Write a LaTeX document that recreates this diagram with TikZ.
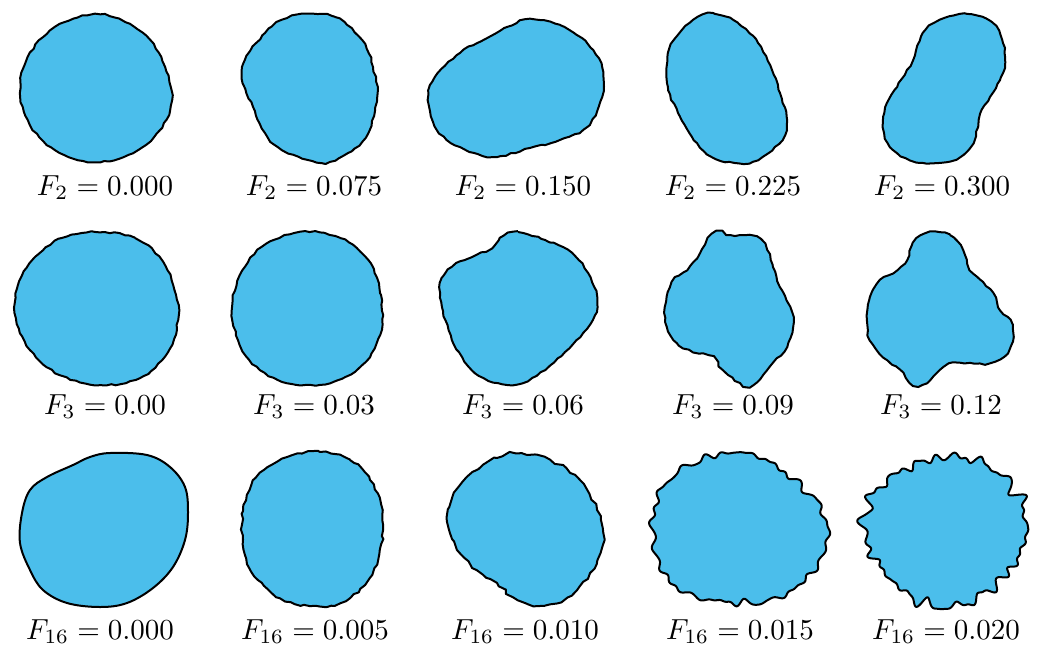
\documentclass[tikz,border=0pt]{standalone}
\usetikzlibrary{decorations.pathmorphing}
\definecolor{blobblue}{RGB}{75,190,235}
\tikzset{
  blob/.style={fill=blobblue, draw=black, line width=2pt, line join=round},
  wfine/.style={decorate, decoration={random steps, segment length=5pt, amplitude=0.8pt}},
  wlow/.style={decorate, decoration={random steps, segment length=5pt, amplitude=1.2pt}},
  wmid/.style={decorate, decoration={random steps, segment length=6pt, amplitude=2pt}},
  lab/.style={anchor=base, inner sep=0pt, scale=2.9},
  declare function={
    ell(\t,\a,\b,\r)=\a*\b/sqrt((\b*cos(\t-\r))^2+(\a*sin(\t-\r))^2);
    rfour(\t)=ell(\t,88,75,8)*(1+0.03*sin(3*\t+40)+0.02*sin(5*\t+120)+0.014*sin(16*\t+20)+0.014*sin(19*\t+110)+0.013*sin(23*\t+200)+0.011*sin(28*\t+60)+0.01*sin(34*\t+300)+0.007*sin(41*\t+10));
    rfive(\t)=ell(\t,80,74,-5)*(1+0.03*sin(3*\t+200)+0.02*sin(4*\t+60)+0.028*sin(16*\t+30)+0.025*sin(19*\t+150)+0.022*sin(24*\t+260)+0.018*sin(29*\t+80)+0.015*sin(35*\t+200)+0.012*sin(43*\t+20));
  }
}
\newcommand\myblob[2]{\filldraw[blob,#1] plot[smooth cycle, tension=0.6] coordinates {#2};}
\begin{document}
\begin{tikzpicture}[x=1pt,y=-1pt]
\pgfmathsetseed{4242}
\useasboundingbox (0,0) rectangle (1038,648);
% row 1
\myblob{wfine}{(95,14)(125,22)(150,40)(165,67)(172,100)(160,130)(133,153)(93,162)(55,150)(30,125)(20,93)(28,57)(55,27)}
\myblob{wfine}{(302,14)(335,17)(362,40)(373,67)(377,97)(368,133)(348,153)(322,163)(282,150)(265,133)(253,107)(243,83)(245,60)(265,33)(282,20)}
\myblob{wfine}{(530,19)(560,25)(587,43)(602,67)(602,97)(587,127)(560,140)(530,148)(493,157)(460,147)(437,130)(428,100)(435,77)(460,53)(487,38)(507,27)}
\myblob{wfine}{(715,14)(738,23)(758,43)(772,70)(780,93)(787,120)(782,140)(758,160)(735,163)(712,157)(692,137)(678,113)(668,87)(668,53)(682,30)(698,17)}
\myblob{wfine}{(967,14)(993,23)(1003,43)(1005,63)(1000,80)(990,97)(982,110)(978,127)(973,143)(960,157)(937,163)(910,160)(890,147)(883,127)(887,103)(897,87)(913,60)(923,33)(940,20)}
% row 2
\myblob{wfine}{(95,232)(135,238)(163,262)(176,295)(178,320)(168,352)(140,378)(100,385)(60,375)(30,350)(16,318)(18,285)(35,257)(62,238)}
\myblob{wfine}{(300,232)(340,238)(368,260)(381,295)(380,335)(362,365)(330,383)(292,384)(260,370)(240,345)(232,310)(240,275)(262,247)}
\myblob{wfine}{(508,233)(518,232)(545,240)(572,253)(588,273)(597,297)(595,315)(583,333)(565,352)(545,370)(522,383)(498,383)(475,373)(462,357)(452,340)(442,307)(440,283)(452,267)(472,257)(492,248)(500,238)}
\myblob{wfine}{(717,232)(730,235)(757,237)(767,250)(773,267)(780,287)(790,307)(793,323)(787,347)(773,363)(753,385)(740,383)(723,370)(713,357)(693,352)(677,343)(667,327)(665,307)(672,282)(687,270)(700,253)(708,238)}
\myblob{wfine}{(930,232)(950,235)(963,250)(970,270)(983,282)(993,293)(1000,310)(1010,320)(1013,337)(1007,353)(990,363)(970,363)(953,363)(940,370)(927,383)(913,385)(900,370)(883,357)(870,340)(867,320)(870,297)(880,280)(893,273)(907,260)(913,243)}
% row 3
\myblob{}{(110,453)(147,455)(170,467)(185,487)(188,513)(185,540)(173,567)(153,588)(127,603)(100,607)(67,603)(43,590)(30,570)(20,543)(22,513)(30,490)(47,477)(73,465)(90,457)}
\myblob{wlow}{(320,452)(350,460)(370,480)(381,505)(383,530)(378,560)(365,585)(340,603)(310,606)(280,598)(258,580)(245,555)(242,525)(247,495)(260,473)(288,457)}
\myblob{wmid}{(510,453)(527,455)(550,460)(570,473)(587,490)(597,510)(603,533)(600,553)(590,573)(577,590)(557,603)(530,605)(513,597)(497,583)(477,570)(460,553)(450,533)(447,517)(453,497)(467,477)(483,465)(497,458)}
\filldraw[blob] plot[domain=0:359.5, samples=720, variable=\t] ({737+rfour(\t)*cos(\t)}, {530+rfour(\t)*sin(\t)}) -- cycle;
\filldraw[blob] plot[domain=0:359.5, samples=720, variable=\t] ({946+rfive(\t)*cos(\t)}, {530+rfive(\t)*sin(\t)}) -- cycle;
% labels
\node[lab] (l11) at (105,195) {$F_2 = 0.000$};
\node[lab] (l12) at (314,195) {$F_2 = 0.075$};
\node[lab] (l13) at (523,195) {$F_2 = 0.150$};
\node[lab] (l14) at (733,195) {$F_2 = 0.225$};
\node[lab] (l15) at (942,195) {$F_2 = 0.300$};
\node[lab] (l21) at (105,414) {$F_3 = 0.00$};
\node[lab] (l22) at (314,414) {$F_3 = 0.03$};
\node[lab] (l23) at (523,414) {$F_3 = 0.06$};
\node[lab] (l24) at (733,414) {$F_3 = 0.09$};
\node[lab] (l25) at (941,414) {$F_3 = 0.12$};
\node[lab] (l31) at (100,639) {$F_{16} = 0.000$};
\node[lab] (l32) at (315,639) {$F_{16} = 0.005$};
\node[lab] (l33) at (525,639) {$F_{16} = 0.010$};
\node[lab] (l34) at (740,639) {$F_{16} = 0.015$};
\node[lab] (l35) at (946,639) {$F_{16} = 0.020$};
\end{tikzpicture}
\end{document}
